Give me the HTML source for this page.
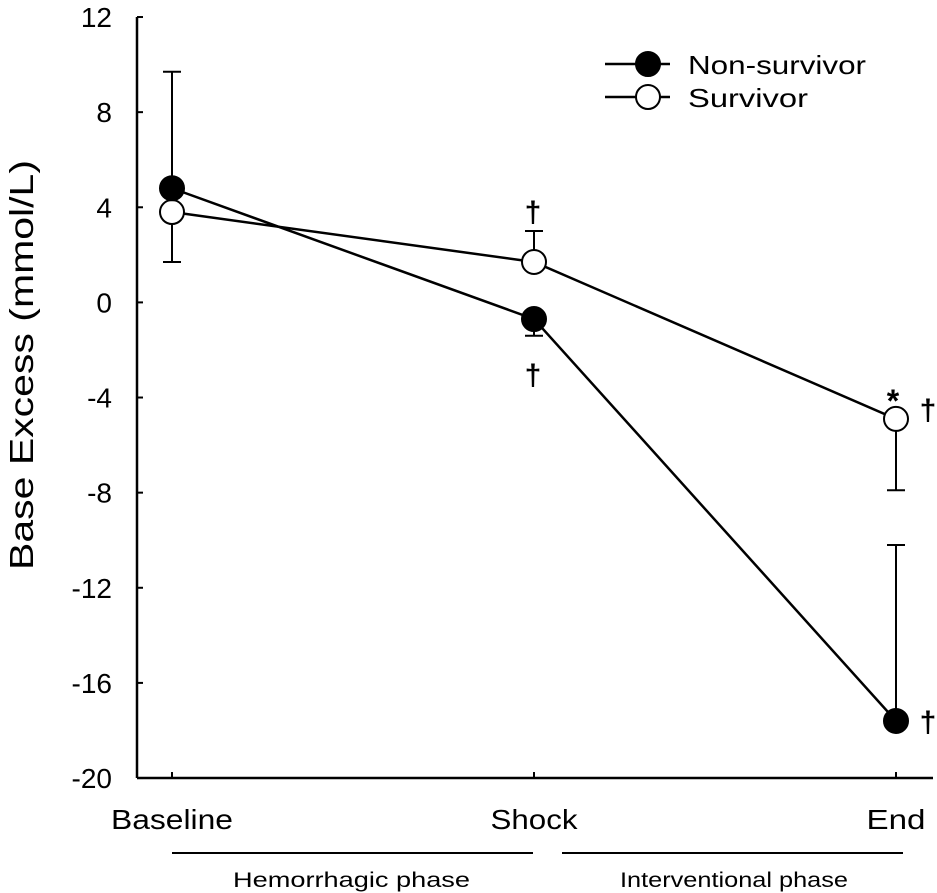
<!DOCTYPE html>
<html><head><meta charset="utf-8"><style>
html,body{margin:0;padding:0;background:#fff}
svg{display:block;font-family:"Liberation Sans",Arial,sans-serif}
</style></head><body>
<svg id="chart" width="937" height="893">
<g id="axes"></g><g id="marks"></g>
<g>
<line x1="605" y1="64" x2="670" y2="64" stroke="#000" stroke-width="2.5"/>
<circle cx="648" cy="64" r="12" fill="#000" stroke="#000" stroke-width="2"/>
<text x="688" y="74" font-size="26" textLength="178" lengthAdjust="spacingAndGlyphs">Non-survivor</text>
<line x1="605" y1="97" x2="670" y2="97" stroke="#000" stroke-width="2.5"/>
<circle cx="648" cy="97" r="12" fill="#fff" stroke="#000" stroke-width="2"/>
<text x="688" y="107" font-size="26" textLength="120" lengthAdjust="spacingAndGlyphs">Survivor</text>
</g>
<text transform="translate(33,365) rotate(-90)" text-anchor="middle" font-size="33" textLength="410" lengthAdjust="spacingAndGlyphs">Base Excess (mmol/L)</text>
<g>
<line x1="172" y1="853" x2="533" y2="853" stroke="#000" stroke-width="2"/>
<line x1="562" y1="853" x2="903" y2="853" stroke="#000" stroke-width="2"/>
<text x="233" y="887" font-size="21" textLength="237" lengthAdjust="spacingAndGlyphs">Hemorrhagic phase</text>
<text x="620" y="887" font-size="21" textLength="228" lengthAdjust="spacingAndGlyphs">Interventional phase</text>
</g>
</svg>
<script>
const categories=["Baseline","Shock","End"];
const nonSurvivor=[4.8,-0.7,-17.6];
const nonSurvivorErr=[4.9,-0.7,7.4];
const survivor=[3.8,1.7,-4.9];
const survivorErr=[-2.1,1.3,-3.0];
const yTicks=[12,8,4,0,-4,-8,-12,-16,-20];
const NS="http://www.w3.org/2000/svg";
const xPos=[172,533,896];
const labelLen=[122,87,59];
function x(i){return xPos[0]+(xPos[2]-xPos[0])*i/(categories.length-1);}
function y(v){return 302.4-(v)*(778-17)/32;}
function mk(p,t,a){const e=document.createElementNS(NS,t);for(const k in a)e.setAttribute(k,a[k]);p.appendChild(e);return e;}
const ax=document.getElementById('axes'),mg=document.getElementById('marks');
let l=mk(ax,'line',{x1:137,y1:y(12),x2:137,y2:y(-20),stroke:'#000','stroke-width':2.5});


l=mk(ax,'line',{x1:137,y1:y(-20),x2:933,y2:y(-20),stroke:'#000','stroke-width':2.5});


yTicks.forEach(v=>{
 mk(ax,'line',{x1:137,y1:y(v),x2:143,y2:y(v),stroke:'#000','stroke-width':2});
 const t=mk(ax,'text',{x:112,y:y(v)+10,'text-anchor':'end','font-size':28});t.textContent=v;
 
 
});
categories.forEach((c,i)=>{
 mk(ax,'line',{x1:x(i),y1:y(-20),x2:x(i),y2:y(-20)-6,stroke:'#000','stroke-width':2});
 const t=mk(ax,'text',{x:x(i)-labelLen[i]/2,y:829,'font-size':28,textLength:labelLen[i],lengthAdjust:'spacingAndGlyphs'});t.textContent=c;
 
 
});
function series(vals,errs,fill,name){
 vals.forEach((v,i)=>{const e=errs[i];
  mk(mg,'line',{x1:x(i),y1:y(v),x2:x(i),y2:y(v+e),stroke:'#000','stroke-width':2});
  mk(mg,'line',{x1:x(i)-9,y1:y(v+e),x2:x(i)+9,y2:y(v+e),stroke:'#000','stroke-width':2});
 });
 const p=mk(mg,'polyline',{points:vals.map((v,i)=>x(i)+','+y(v)).join(' '),fill:'none',stroke:'#000','stroke-width':2.5});
 
 
 vals.forEach((v,i)=>{const c=mk(mg,'circle',{cx:x(i),cy:y(v),r:12,fill:fill,stroke:'#000','stroke-width':2});
  
  });
}
series(survivor,survivorErr,'#fff','survivor');
series(nonSurvivor,nonSurvivorErr,'#000','non-survivor');
[[533,222,'†',30],[533,385,'†',30],[893,412,'*',32],[928,420,'†',30],[928,732,'†',30]].forEach(a=>{
 const t=mk(mg,'text',{x:a[0],y:a[1],'text-anchor':'middle','font-size':a[3],'font-weight':'bold'});t.textContent=a[2];
 
 
});
</script>
</body></html>
